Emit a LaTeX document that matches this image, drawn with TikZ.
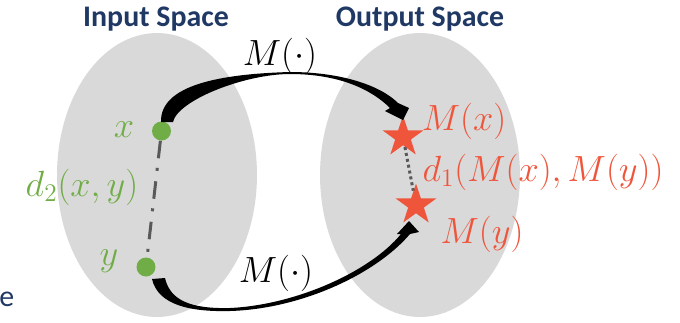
\documentclass[tikz,border=0pt]{standalone}
\usepackage{fontspec}
\setmainfont{Carlito}
\usetikzlibrary{positioning, shapes.geometric, calc}

\definecolor{navytitle}{HTML}{1F3864}
\definecolor{ptgreen}{HTML}{70AD47}
\definecolor{ptred}{HTML}{EF553B}
\definecolor{spacegray}{HTML}{D9D9D9}
\definecolor{linegray}{HTML}{595959}

\begin{document}
\begin{tikzpicture}[
    x=0.02cm, y=-0.02cm,
    space/.style={ellipse, fill=spacegray, minimum width=4cm, minimum height=5.68cm, inner sep=0pt},
    title/.style={font=\fontsize{17}{20}\selectfont\bfseries, text=navytitle},
    ptdot/.style={circle, fill=ptgreen, minimum size=0.38cm, inner sep=0pt},
    ptstar/.style={star, star points=5, star point ratio=2.6, fill=ptred,
        minimum size=0.86cm, inner sep=0pt},
    inlbl/.style={font=\fontsize{20.74}{24}\selectfont, text=ptgreen, inner sep=0pt},
    outlbl/.style={font=\fontsize{20.74}{24}\selectfont, text=ptred, inner sep=0pt},
    maplbl/.style={font=\fontsize{20.74}{24}\selectfont, inner sep=0pt},
    distline/.style={draw=linegray, line width=1.7pt, dash pattern=on 10pt off 5.5pt on 1.7pt off 6pt},
    dotline/.style={draw=linegray, line width=1.7pt, dash pattern=on 1.7pt off 1.7pt},
    maparrow/.style={fill=black}
]
\useasboundingbox (0,0) rectangle (680,322);

% The two spaces
\node[space] (inspace) at (157,175) {};
\node[space] (outspace) at (420,175) {};
\node[title] (intitle) at (156,19) {Input Space};
\node[title] (outtitle) at (420,19) {Output Space};
\node[font=\fontsize{17}{20}\selectfont, text=navytitle, anchor=west, inner sep=0pt] (cut) at (-1,299) {e};

% Points in input space
\node[ptdot] (xdot) at (161.5,131) {};
\node[ptdot] (ydot) at (146,267) {};
\node[inlbl] (xlbl) at (124,130) {$x$};
\node[inlbl] (ylbl) at (109,261) {$y$};
\node[inlbl] (dinlbl) at (82,187) {$d_2(x,y)$};

% Their images in output space
\node[ptstar] (mx) at (403,137) {};
\node[ptstar] (my) at (416,205) {};
\node[outlbl] (mxlbl) at (464,121) {$M(x)$};
\node[outlbl] (mylbl) at (482,234) {$M(y)$};
\node[outlbl] (doutlbl) at (543,172) {$d_1\bigl(M(x),M(y)\bigr)$};

% Map labels
\node[maplbl] (mtop) at (280,56) {$M(\cdot)$};
\node[maplbl] (mbot) at (276,273) {$M(\cdot)$};

% Distances
\draw[distline] (xdot) -- (ydot);
\draw[dotline] (mx) -- (my);

% Mapping arrows (tapered)
\coordinate (topmid) at (290,72);
\coordinate (botmid) at (230,311);
\fill[maparrow] ($(xdot)+(-0.5,-9)$) .. controls +(-1,-37) and +(-70,2) .. (topmid)
    .. controls +(50,0) and +(-18,-18) .. ($(mx)+(-5,-34)$)
    -- ($(mx)+(6,-29)$) -- ($(mx)+(0,-17)$) -- ($(mx)+(-18,-26)$) -- ($(mx)+(-13,-29)$)
    .. controls +(-18,-18) and +(50,0) .. ($(topmid)+(0,2)$)
    .. controls +(-45,0) and +(5,-22) .. ($(xdot)+(11.5,-9)$) -- cycle;
\fill[maparrow] ($(ydot)+(6,12)$) .. controls +(6,26) and +(-40,1) .. (botmid)
    .. controls +(70,-2) and +(-35,41) .. ($(my)+(-6,29)$)
    -- ($(my)+(3,27)$) -- ($(my)+(-7,16)$) -- ($(my)+(-19,29)$) -- ($(my)+(-15,29)$)
    .. controls +(-31,38) and +(65,-3) .. ($(botmid)+(0,-3)$)
    .. controls +(-40,1) and +(5,22) .. ($(ydot)+(19,11)$) -- cycle;

\end{tikzpicture}
\end{document}
